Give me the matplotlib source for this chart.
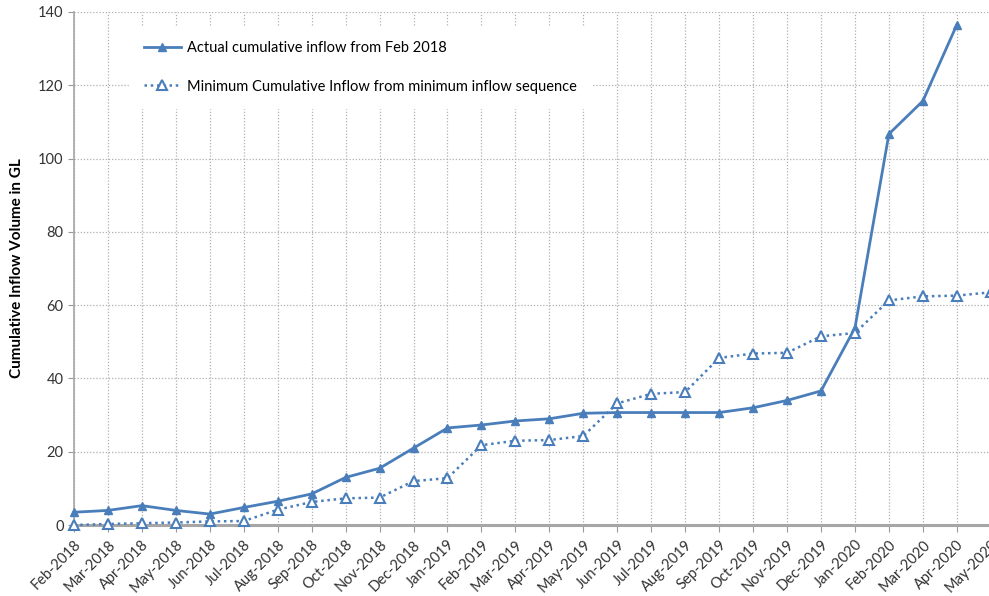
import matplotlib.pyplot as plt

plt.rcParams['font.family'] = ['Lato', 'DejaVu Sans']

months = ["Feb-2018", "Mar-2018", "Apr-2018", "May-2018", "Jun-2018", "Jul-2018",
          "Aug-2018", "Sep-2018", "Oct-2018", "Nov-2018", "Dec-2018", "Jan-2019",
          "Feb-2019", "Mar-2019", "Apr-2019", "May-2019", "Jun-2019", "Jul-2019",
          "Aug-2019", "Sep-2019", "Oct-2019", "Nov-2019", "Dec-2019", "Jan-2020",
          "Feb-2020", "Mar-2020", "Apr-2020", "May-2020"]

actual = [3.5, 4.0, 5.3, 4.0, 3.0, 4.8, 6.5, 8.5, 13.0, 15.5, 21.0, 26.5,
          27.3, 28.4, 29.0, 30.5, 30.7, 30.7, 30.7, 30.7, 32.0, 34.0, 36.6,
          53.8, 106.7, 115.7, 136.5]

minimum = [0.0, 0.3, 0.5, 0.7, 1.0, 1.1, 4.2, 6.3, 7.3, 7.5, 12.0, 12.8,
           21.8, 23.0, 23.2, 24.3, 33.2, 35.8, 36.3, 45.6, 46.8, 47.0, 51.5,
           52.4, 61.3, 62.4, 62.6, 63.5]

blue = "#4a7ebb"

fig = plt.figure(figsize=(9.89, 5.96), dpi=100)
ax = fig.add_axes([0.0748, 0.119, 0.927, 0.861])

x_act = list(range(len(actual)))
x_min = list(range(len(minimum)))

ax.plot(x_act, actual, color=blue, lw=2, marker="^", markersize=6,
        label="Actual cumulative inflow from Feb 2018", zorder=3, clip_on=False)
ax.plot(x_min, minimum, color=blue, lw=1.8, ls=(0, (1, 1.5)), marker="^",
        markersize=7, markerfacecolor="white", markeredgecolor=blue,
        markeredgewidth=1.5, label="Minimum Cumulative Inflow from minimum inflow sequence",
        zorder=3, clip_on=False)

ax.set_xlim(0, len(months) - 1)
ax.set_ylim(0, 140)
ax.set_yticks(range(0, 141, 20))
ax.set_xticks(range(len(months)))
ax.set_xticklabels(months, rotation=45, ha="right", rotation_mode="anchor",
                   fontsize=10.5, color="#333333")
ax.tick_params(axis="y", labelsize=10.5, labelcolor="#333333", length=4, color="#999999")
ax.tick_params(axis="x", length=5, color="#999999", pad=4)

ax.grid(True, color="#b0b0b0", ls=(0, (1, 1.5)), lw=0.9)
ax.set_axisbelow(True)

for s in ["top", "right"]:
    ax.spines[s].set_visible(False)
ax.spines["left"].set_color("#a6a6a6")
ax.spines["left"].set_linewidth(1.2)
ax.spines["bottom"].set_color("#a6a6a6")
ax.spines["bottom"].set_linewidth(2.2)

ax.set_ylabel("Cumulative Inflow Volume in GL", fontsize=11, fontweight="bold", labelpad=10)

leg = ax.legend(loc="upper left", bbox_to_anchor=(0.052, 0.985), frameon=True,
                fontsize=10.5, handlelength=2.6, handletextpad=0.35, labelspacing=1.65,
                borderpad=1.0, fancybox=False)
leg.get_frame().set_edgecolor("white")
leg.get_frame().set_facecolor("white")
leg.get_frame().set_alpha(1)

fig.savefig("out.png", dpi=100)
